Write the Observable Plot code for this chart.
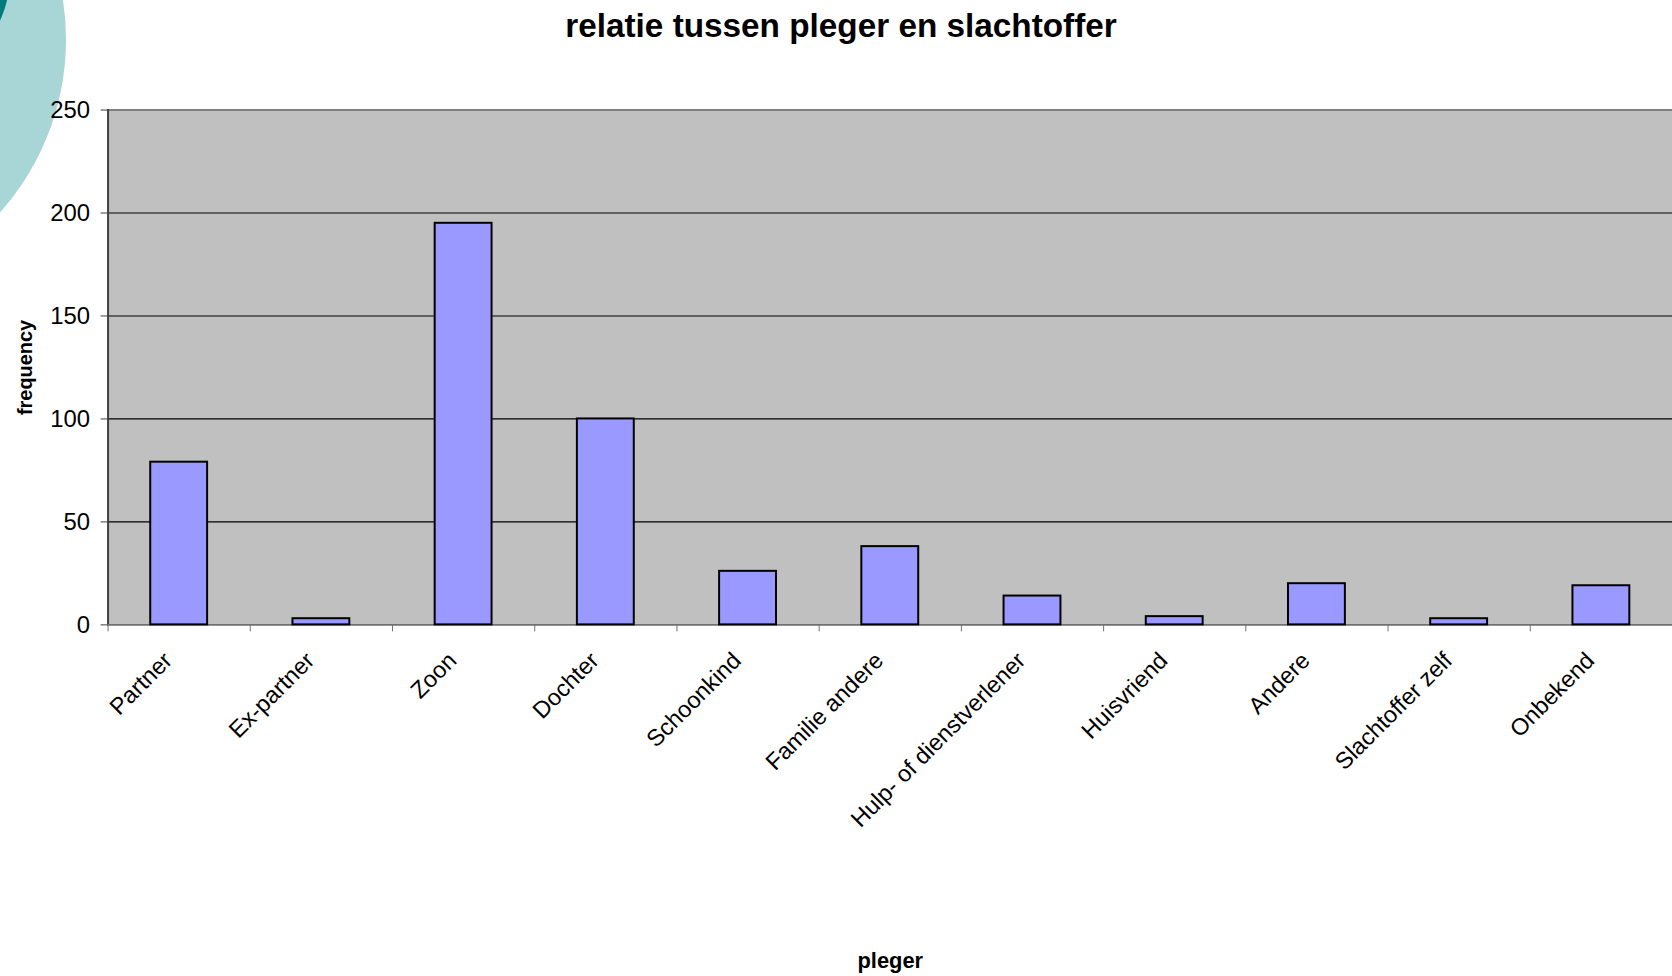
<!DOCTYPE html>
<html>
<head>
<meta charset="utf-8">
<script src="https://cdn.jsdelivr.net/npm/d3@7"></script>
<script src="https://cdn.jsdelivr.net/npm/@observablehq/plot@0.6"></script>
<style>
  html, body { margin: 0; padding: 0; background: #ffffff; overflow: hidden; }
  #wrap { position: relative; width: 1672px; height: 976px; overflow: hidden;
          font-family: "Liberation Sans", Arial, sans-serif; }
  .deco { position: absolute; border-radius: 50%; }
  #c1 { left: -453px; top: -220px; width: 519px; height: 519px; background: #a8d5d5; }
  #c2 { left: -203px; top: -131px; width: 213px; height: 213px; background: #007b7b; }
  #title { position: absolute; left: 341px; width: 1000px; top: 9px; text-align: center;
           font-size: 33.3px; line-height: 33px; font-weight: bold; color: #000; }
  #chart { position: absolute; left: 0; top: 0; }
</style>
</head>
<body>
<div id="wrap">
  <div class="deco" id="c1"></div>
  <div class="deco" id="c2"></div>
  <div id="chart"></div>
  <div id="title">relatie tussen pleger en slachtoffer</div>
</div>
<script>
const categories = ["Partner", "Ex-partner", "Zoon", "Dochter", "Schoonkind", "Familie andere",
  "Hulp- of dienstverlener", "Huisvriend", "Andere", "Slachtoffer zelf", "Onbekend"];
const frequency = [79, 3, 195, 100, 26, 38, 14, 4, 20, 3, 19];
const yTicks = [0, 50, 100, 150, 200, 250];
const xLabel = "pleger";
const yLabel = "frequency";

const data = categories.map((c, i) => ({pleger: c, frequency: frequency[i]}));

const W = 1679, H = 990, mL = 108, mR = 0, mT = 110, mB = 363;
const step = (W - mL - mR) / categories.length;
const font = "'Liberation Sans', Arial, sans-serif";

const chart = Plot.plot({
  width: W,
  height: H,
  marginLeft: mL,
  marginRight: mR,
  marginTop: mT,
  marginBottom: mB,
  style: {fontFamily: font, fontSize: "24px", background: "transparent", overflow: "visible", color: "#000"},
  x: {domain: categories, paddingInner: 0.6, paddingOuter: 0.3, align: 0.5, round: false},
  y: {domain: [0, 250]},
  marks: [
    Plot.frame({fill: "#c0c0c0", stroke: null}),
    Plot.ruleY(yTicks.filter(v => v > 0 && v < 250), {stroke: "#000", strokeWidth: 1.2}),
    Plot.ruleY([250], {stroke: "#808080", strokeWidth: 2}),
    Plot.frame({anchor: "left", stroke: "#404040", strokeWidth: 2}),
    Plot.frame({anchor: "bottom", stroke: "#707070", strokeWidth: 2}),
    Plot.axisY({ticks: yTicks, tickSize: 7, tickPadding: 11, fontSize: 24, stroke: "#404040", fill: "#000", label: null}),
    Plot.axisX({tickSize: 7, tickFormat: () => "", dx: -step / 2, stroke: "#707070", label: null}),
    Plot.axisX({tickSize: 0, tickRotate: -45, tickPadding: 32, dx: -11, fontSize: 23.5, fill: "#000", label: null}),
    Plot.barY(data, {x: "pleger", y: "frequency", fill: "#9999ff", stroke: "#000", strokeWidth: 2}),
    Plot.text([yLabel], {text: d => d, frameAnchor: "left", rotate: -90, dx: -83, fontSize: 20, fontWeight: "bold", fill: "#000", textAnchor: "middle", lineAnchor: "middle"}),
    Plot.text([xLabel], {text: d => d, frameAnchor: "bottom", dy: 338, fontSize: 22, fontWeight: "bold", fill: "#000", textAnchor: "middle", lineAnchor: "middle"})
  ]
});
document.getElementById("chart").appendChild(chart);
</script>
</body>
</html>
